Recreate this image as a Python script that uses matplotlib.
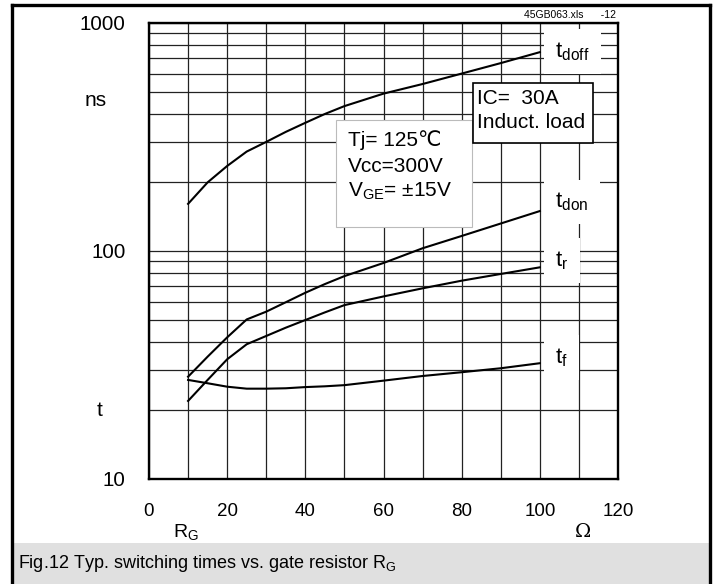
import numpy as np
import matplotlib
matplotlib.use("Agg")
import matplotlib.pyplot as plt
from matplotlib.patches import Rectangle
from matplotlib.lines import Line2D
from matplotlib.ticker import FixedLocator, NullFormatter

plt.rcParams['font.family'] = ['Liberation Sans', 'DejaVu Sans']
plt.rcParams['mathtext.fontset'] = 'custom'
plt.rcParams['mathtext.rm'] = 'Liberation Sans'
plt.rcParams['mathtext.it'] = 'Liberation Sans'

# gate resistor (Ohm)
rg = [10, 15, 20, 25, 30, 35, 40, 45, 50, 60, 70, 80, 90, 100]
# switching times (ns)
t_doff = [161, 200, 236, 273, 301, 333, 365, 399, 432, 490, 540, 600, 667, 745]
t_don = [28.1, 34.4, 41.8, 50.1, 54.2, 59.6, 65.6, 71.6, 77.6, 88.6, 102.8, 116.4, 132, 149.7]
t_r = [22.0, 27.2, 33.5, 39.0, 42.4, 46.1, 49.8, 53.8, 57.9, 63.2, 68.6, 74.1, 79.3, 84.8]
t_f = [27.2, 26.3, 25.4, 24.9, 24.9, 25.0, 25.3, 25.5, 25.8, 27.0, 28.3, 29.4, 30.6, 32.2]

curve_names = [r't$_\mathregular{doff}$', r't$_\mathregular{don}$',
               r't$_\mathregular{r}$', r't$_\mathregular{f}$']
label_y = [748, 164, 91, 34]

W, H = 715, 584


def fp(x, y):
    # pixel position (from top left) -> figure fraction
    return x / W, 1 - y / H


fig = plt.figure(figsize=(7.15, 5.84), dpi=100)
fig.patch.set_facecolor('white')

# outer frame and caption strip
fig.patches.append(Rectangle(fp(12, 584), 698 / W, 41 / H, transform=fig.transFigure,
                             facecolor='#e0e0e0', edgecolor='none', zorder=0))
for xs, ys in [((12, 12), (5, 584)), ((12, 710), (5, 5)), ((710, 710), (5, 584))]:
    p0 = fp(xs[0], ys[0])
    p1 = fp(xs[1], ys[1])
    fig.lines.append(Line2D([p0[0], p1[0]], [p0[1], p1[1]], transform=fig.transFigure,
                            color='black', lw=2.4))

ax = fig.add_axes([149 / W, 1 - 479 / H, (618 - 149) / W, (479 - 23) / H])
ax.set_yscale('log')
ax.set_xlim(0, 120)
ax.set_ylim(10, 1000)

ax.set_xticks(range(0, 121, 20))
ax.xaxis.set_minor_locator(FixedLocator(range(10, 120, 20)))
ax.set_yticks([10, 100, 1000])
ax.set_yticklabels(['10', '100', '1000'])
minors = [m * d for d in (10, 100) for m in range(2, 10)]
ax.yaxis.set_minor_locator(FixedLocator(minors))
ax.yaxis.set_minor_formatter(NullFormatter())
ax.tick_params(which='both', length=0)
ax.tick_params(axis='x', pad=17, labelsize=13.5)
ax.tick_params(axis='y', pad=17, labelsize=14.8)
ax.grid(which='both', color='#222222', lw=0.9)
ax.set_axisbelow(True)
for s in ax.spines.values():
    s.set_linewidth(1.7)

for ys in (t_doff, t_don, t_r, t_f):
    ax.plot(rg, ys, color='black', lw=1.5, zorder=3)

for name, yv in zip(curve_names, label_y):
    ax.text(104, yv, name, fontsize=16, ha='left', va='center', zorder=4,
            bbox=dict(boxstyle='square,pad=0.5', fc='white', ec='none'))

# condition boxes
fig.patches.append(Rectangle(fp(336, 227), 136 / W, 107 / H, transform=fig.transFigure,
                             facecolor='white', edgecolor='#bbbbbb', lw=0.8, zorder=5))
fig.text(*fp(348, 140), r'Tj= 125℃', fontsize=15, va='center', zorder=6)
fig.text(*fp(348, 166), 'Vcc=300V', fontsize=15, va='center', zorder=6)
fig.text(*fp(348, 191), r'V$_\mathregular{GE}$= ±15V', fontsize=15, va='center', zorder=6)

fig.patches.append(Rectangle(fp(473, 143), 120 / W, 60 / H, transform=fig.transFigure,
                             facecolor='white', edgecolor='black', lw=1.2, zorder=5))
fig.text(*fp(477, 98), 'IC=  30A', fontsize=15, va='center', zorder=6)
fig.text(*fp(477, 123), 'Induct. load', fontsize=15, va='center', zorder=6)

# axis annotations
fig.text(*fp(616, 15), '45GB063.xls      -12', fontsize=7.5, ha='right', va='center')
fig.text(*fp(96, 100), 'ns', fontsize=15, ha='center', va='center')
fig.text(*fp(100, 410), 't', fontsize=15, ha='center', va='center')
fig.text(*fp(186, 532), r'R$_\mathregular{G}$', fontsize=14, ha='center', va='center')
fig.text(*fp(583, 532), 'Ω', fontsize=14, ha='center', va='center', family='DejaVu Serif')

fig.text(*fp(18, 563), r'Fig.12 Typ. switching times vs. gate resistor R$_\mathregular{G}$',
         fontsize=13, ha='left', va='center')

fig.savefig('out.png', dpi=100)
